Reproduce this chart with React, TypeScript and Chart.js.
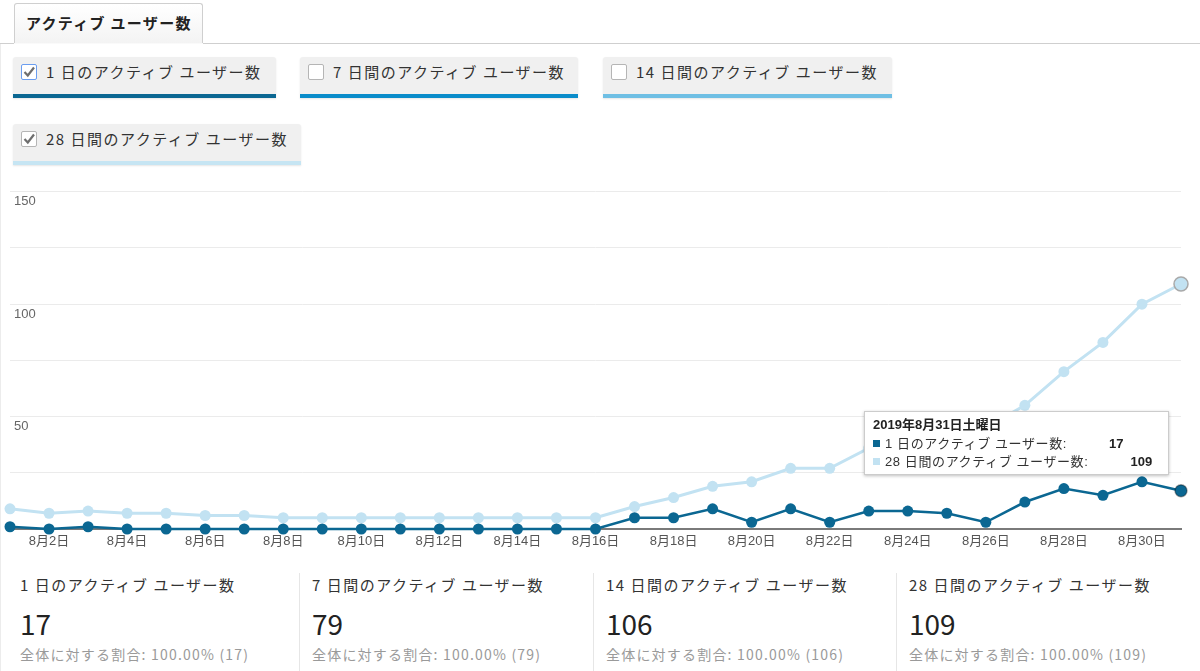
import React, { useEffect, useRef } from "react";
import { Chart, registerables } from "chart.js";

Chart.register(...registerables);

const dates = [
  "8月1日", "8月2日", "8月3日", "8月4日", "8月5日", "8月6日", "8月7日", "8月8日",
  "8月9日", "8月10日", "8月11日", "8月12日", "8月13日", "8月14日", "8月15日", "8月16日",
  "8月17日", "8月18日", "8月19日", "8月20日", "8月21日", "8月22日", "8月23日", "8月24日",
  "8月25日", "8月26日", "8月27日", "8月28日", "8月29日", "8月30日", "8月31日",
];

const oneDayUsers = [
  1, 0, 1, 0, 0, 0, 0, 0, 0, 0, 0, 0, 0, 0, 0, 0,
  5, 5, 9, 3, 9, 3, 8, 8, 7, 3, 12, 18, 15, 21, 17,
];

const twentyEightDayUsers = [
  9, 7, 8, 7, 7, 6, 6, 5, 5, 5, 5, 5, 5, 5, 5, 5,
  10, 14, 19, 21, 27, 27, 36, 39, 42, 45, 55, 70, 83, 100, 109,
];

const yLabelValues = [50, 100, 150];

const metricNames = [
  "1 日のアクティブ ユーザー数",
  "7 日間のアクティブ ユーザー数",
  "14 日間のアクティブ ユーザー数",
  "28 日間のアクティブ ユーザー数",
];
const metricChecked = [true, false, false, true];
const metricTotals = [17, 79, 106, 109];

const tabTitle = "アクティブ ユーザー数";
const tooltipTitle = "2019年8月31日土曜日";
const shareLabel = "全体に対する割合: 100.00%";

const DARK = "#0b6792";
const LIGHT = "#c2e2f2";
const BANDS = ["#0b6792", "#0a8cca", "#6fbfe4", "#c6e5f3"];

const FONT = "'Liberation Sans', 'Noto Sans CJK JP', sans-serif";
const JFONT = "'Noto Sans CJK JP', 'Liberation Sans', sans-serif";

function CheckBox({ checked, focus }: { checked: boolean; focus: boolean }) {
  return (
    <div
      style={{
        position: "absolute",
        left: 8,
        top: 7,
        width: 14,
        height: 14,
        border: `1px solid ${focus ? "#6a9df0" : "#b5b5b5"}`,
        background: "#fff",
        borderRadius: 2,
      }}
    >
      {checked && (
        <svg width="14" height="14" style={{ position: "absolute", left: 0, top: 0 }}>
          <polyline points="2.5,7 5.8,10.5 12,2.5" fill="none" stroke="#6e6e6e" strokeWidth="2.2" />
        </svg>
      )}
    </div>
  );
}

function MetricButton(props: { idx: number; left: number; top: number; width: number }) {
  const { idx, left, top, width } = props;
  return (
    <div
      style={{
        position: "absolute",
        left,
        top,
        width,
        height: 41,
        background: "#f0f0f0",
        borderRadius: "3px 3px 0 0",
        boxShadow: "0 1px 2px rgba(0,0,0,0.10)",
      }}
    >
      <CheckBox checked={metricChecked[idx]} focus={idx === 0} />
      <span
        style={{
          position: "absolute",
          left: 33,
          top: 5,
          fontSize: 15,
          lineHeight: "20px",
          letterSpacing: "1.5px",
          color: "#333",
          fontFamily: JFONT,
          whiteSpace: "nowrap",
        }}
      >
        {metricNames[idx]}
      </span>
      <div style={{ position: "absolute", left: 0, right: 0, bottom: 0, height: 4, background: BANDS[idx] }} />
    </div>
  );
}

function StatBlock({ idx, left }: { idx: number; left: number }) {
  return (
    <div style={{ position: "absolute", left, top: 574, width: 280, fontFamily: JFONT }}>
      <div style={{ fontSize: 15, lineHeight: "22px", letterSpacing: "1.5px", color: "#333", whiteSpace: "nowrap" }}>
        {metricNames[idx]}
      </div>
      <div style={{ position: "absolute", top: 31, fontSize: 28, lineHeight: "36px", color: "#222" }}>
        {metricTotals[idx]}
      </div>
      <div
        style={{
          position: "absolute",
          top: 70,
          fontSize: 14,
          lineHeight: "20px",
          letterSpacing: "1.2px",
          color: "#9a9a9a",
          whiteSpace: "nowrap",
        }}
      >
        {shareLabel} ({metricTotals[idx]})
      </div>
    </div>
  );
}

export default function App() {
  const canvasRef = useRef<HTMLCanvasElement | null>(null);

  useEffect(() => {
    const canvas = canvasRef.current;
    if (!canvas) return;
    const last = dates.length - 1;
    const chart = new Chart(canvas, {
      type: "line",
      data: {
        labels: dates,
        datasets: [
          {
            label: metricNames[0],
            data: oneDayUsers,
            borderColor: DARK,
            backgroundColor: DARK,
            borderWidth: 2.5,
            pointRadius: oneDayUsers.map((_, i) => (i === last ? 6 : 5.5)),
            pointBackgroundColor: DARK,
            pointBorderColor: oneDayUsers.map((_, i) => (i === last ? "rgba(0,0,0,0.35)" : DARK)),
            pointBorderWidth: oneDayUsers.map((_, i) => (i === last ? 1.5 : 0)),
            tension: 0,
            clip: false,
          },
          {
            label: metricNames[3],
            data: twentyEightDayUsers,
            borderColor: LIGHT,
            backgroundColor: LIGHT,
            borderWidth: 3,
            pointRadius: twentyEightDayUsers.map((_, i) => (i === last ? 7 : 5.5)),
            pointBackgroundColor: LIGHT,
            pointBorderColor: twentyEightDayUsers.map((_, i) => (i === last ? "#a9a9a9" : LIGHT)),
            pointBorderWidth: twentyEightDayUsers.map((_, i) => (i === last ? 1.5 : 0)),
            tension: 0,
            clip: false,
          },
        ],
      },
      options: {
        responsive: false,
        animation: false,
        events: [],
        layout: { autoPadding: false, padding: { top: 11, left: 10, right: 19, bottom: 0 } },
        plugins: { legend: { display: false }, tooltip: { enabled: false } },
        scales: {
          x: {
            type: "category",
            offset: false,
            grid: { display: false, drawTicks: false },
            border: { display: true, color: "#7a7a7a", width: 2 },
            ticks: {
              autoSkip: false,
              maxRotation: 0,
              padding: 5,
              color: "#555",
              font: { family: FONT, size: 13 },
              callback: (_v: any, i: number) => (i % 2 === 1 ? dates[i] : ""),
            },
            afterFit: (s: any) => {
              s.height = 41;
            },
          },
          y: {
            min: 0,
            max: 150,
            grid: { color: "#ebebeb", lineWidth: 1, drawTicks: false },
            border: { display: false },
            ticks: {
              stepSize: 25,
              mirror: true,
              padding: 4,
              labelOffset: 10,
              color: "#666",
              font: { family: FONT, size: 13 },
              callback: (v: any) => (yLabelValues.includes(Number(v)) ? String(v) : ""),
            },
            afterFit: (s: any) => {
              s.width = 0;
            },
          },
        },
      },
    } as any);
    return () => chart.destroy();
  }, []);

  return (
    <div
      style={{
        position: "absolute",
        left: 0,
        top: 0,
        width: 1200,
        height: 671,
        background: "#fff",
        overflow: "hidden",
        fontFamily: JFONT,
      }}
    >
      <div style={{ position: "absolute", left: 0, top: 43, width: 1200, height: 1, background: "#cfcfcf" }} />
      <div style={{ position: "absolute", left: 0, top: 44, width: 1, height: 627, background: "#ececec" }} />
      <div
        style={{
          position: "absolute",
          left: 14,
          top: 3,
          width: 187,
          height: 40,
          border: "1px solid #cfcfcf",
          borderBottom: "none",
          borderRadius: "3px 3px 0 0",
          background: "linear-gradient(#ffffff, #f3f3f3)",
        }}
      >
        <span
          style={{
            position: "absolute",
            left: 11,
            top: 9,
            fontSize: 15,
            lineHeight: "20px",
            letterSpacing: "1.3px",
            fontWeight: "bold",
            color: "#222",
            whiteSpace: "nowrap",
          }}
        >
          {tabTitle}
        </span>
      </div>
      <div style={{ position: "absolute", left: 14, top: 43, width: 189, height: 1, background: "#fafafa" }} />

      <MetricButton idx={0} left={13} top={57} width={263} />
      <MetricButton idx={1} left={300} top={57} width={278} />
      <MetricButton idx={2} left={603} top={57} width={289} />
      <MetricButton idx={3} left={13} top={124} width={288} />

      <canvas
        ref={canvasRef}
        width={1200}
        height={390}
        style={{ position: "absolute", left: 0, top: 180, width: 1200, height: 390 }}
      />

      <div
        style={{
          position: "absolute",
          left: 864,
          top: 411,
          width: 303,
          height: 62,
          background: "#fff",
          border: "1px solid #cccccc",
          boxShadow: "0 1px 3px rgba(0,0,0,0.25)",
          fontFamily: FONT,
          color: "#222",
        }}
      >
        <div style={{ position: "absolute", left: 8, top: 5, fontSize: 13, lineHeight: "16px", fontWeight: "bold" }}>
          {tooltipTitle}
        </div>
        {[
          { color: DARK, label: metricNames[0], value: oneDayUsers[oneDayUsers.length - 1], top: 23 },
          { color: LIGHT, label: metricNames[3], value: twentyEightDayUsers[twentyEightDayUsers.length - 1], top: 41 },
        ].map((r) => (
          <div
            key={r.label}
            style={{
              position: "absolute",
              left: 8,
              top: r.top,
              display: "flex",
              alignItems: "center",
              fontSize: 13,
              lineHeight: "17px",
              whiteSpace: "nowrap",
            }}
          >
            <span style={{ display: "inline-block", width: 7, height: 7, background: r.color, marginRight: 5 }} />
            <span style={{ color: "#333", letterSpacing: "0.6px" }}>{r.label}:</span>
            <span style={{ marginLeft: 42, fontWeight: "bold", color: "#222" }}>{r.value}</span>
          </div>
        ))}
      </div>

      <div style={{ position: "absolute", left: 299, top: 573, width: 1, height: 98, background: "#e6e6e6" }} />
      <div style={{ position: "absolute", left: 593, top: 573, width: 1, height: 98, background: "#e6e6e6" }} />
      <div style={{ position: "absolute", left: 896, top: 573, width: 1, height: 98, background: "#e6e6e6" }} />
      <StatBlock idx={0} left={20} />
      <StatBlock idx={1} left={312} />
      <StatBlock idx={2} left={606} />
      <StatBlock idx={3} left={909} />
    </div>
  );
}
